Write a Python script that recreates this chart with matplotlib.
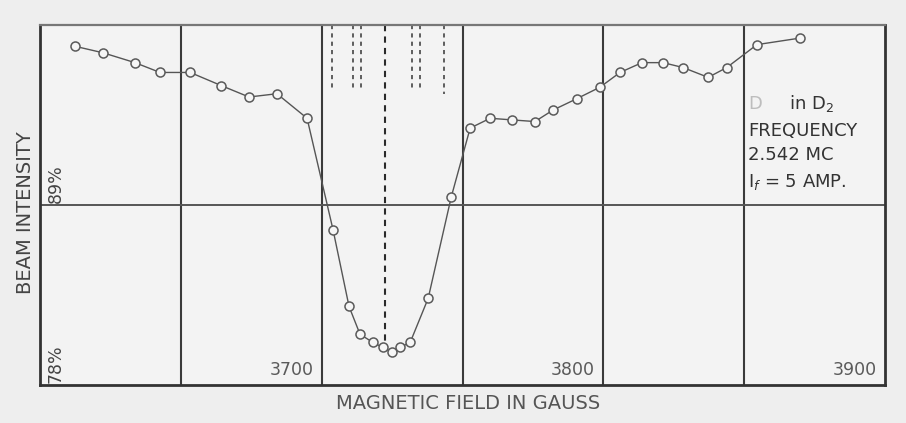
import matplotlib
matplotlib.use("Agg")
import matplotlib.pyplot as plt

# Data
field_gauss = [3612.4, 3622.4, 3633.7, 3642.6, 3653.3, 3664.3, 3674.2, 3684.1, 3694.8,
               3704.0, 3709.7, 3713.6, 3718.2, 3721.7, 3725.0, 3727.8, 3731.4, 3737.8,
               3746.0, 3752.7, 3759.8, 3767.6, 3775.7, 3782.1, 3790.6, 3798.8, 3805.9,
               3813.7, 3821.2, 3828.3, 3837.2, 3843.8, 3854.5, 3869.8]
intensity_pct = [98.7, 98.3, 97.7, 97.1, 97.1, 96.3, 95.6, 95.8, 94.3,
                 87.5, 82.8, 81.1, 80.6, 80.3, 80.0, 80.3, 80.6, 83.3,
                 89.5, 93.7, 94.3, 94.2, 94.1, 94.8, 95.5, 96.2, 97.1,
                 97.7, 97.7, 97.4, 96.8, 97.4, 98.8, 99.2]

# theoretical line positions (dashed markers at top)
short_lines_gauss = [3703.7, 3711.1, 3714.0, 3732.0, 3735.0, 3743.4]
short_lines_bottom = [96.0, 96.0, 96.0, 96.0, 96.0, 95.8]
center_line_gauss = 3722.5
center_line_bottom = 80.1

x_grid = [3650, 3700, 3750, 3800, 3850]
y_grid = [89]
x_tick_vals = [3700, 3800, 3900]
x_tick_labels = ["3700", "3800", "3900"]
y_tick_vals = [89, 78]
y_tick_labels = ["89%", "78%"]

notes = ["D", "in D$_2$", "FREQUENCY", "2.542 MC", "I$_{f}$ = 5 AMP."]

fig = plt.figure(figsize=(9.06, 4.23), dpi=100, facecolor="#eeeeee")
ax = fig.add_axes([0.0442, 0.0898, 0.9327, 0.8511])
ax.set_facecolor("#f3f3f3")
ax.set_xlim(3600, 3900)
ax.set_ylim(78, 100)

for g in x_grid:
    ax.axvline(g, color="#3a3a3a", lw=1.5, zorder=1)
for v in y_grid:
    ax.axhline(v, color="#555555", lw=1.4, zorder=1)

for g, b in zip(short_lines_gauss, short_lines_bottom):
    ax.plot([g, g], [100, b], color="#444444", lw=1.2, ls=(0, (2.5, 2.5)), zorder=2)
ax.plot([center_line_gauss, center_line_gauss], [100, center_line_bottom],
        color="#2a2a2a", lw=1.5, ls=(0, (3, 2.5)), zorder=2)

ax.plot(field_gauss, intensity_pct, color="#555555", lw=1.0, zorder=3,
        marker="o", markersize=6.5, markerfacecolor="#f6f6f6",
        markeredgecolor="#5a5a5a", markeredgewidth=1.1)

for s in ["left", "bottom", "right"]:
    ax.spines[s].set_color("#333333")
    ax.spines[s].set_linewidth(2.0)
ax.spines["top"].set_color("#777777")
ax.spines["top"].set_linewidth(1.6)
ax.set_xticks([])
ax.set_yticks([])

for v, lab in zip(x_tick_vals, x_tick_labels):
    ax.text(v - 3, 78.35, lab, ha="right", va="bottom", fontsize=12.5,
            color="#5a5a5a", zorder=4)
for v, lab in zip(y_tick_vals, y_tick_labels):
    ax.text(3602.5, v + 0.15, lab, ha="left", va="bottom", rotation=90,
            fontsize=12.5, color="#444444", zorder=4)

ax.text(3851.5, 95.2, notes[0], fontsize=13, color="#bdbdbd", ha="left", va="center")
ax.text(3866.0, 95.2, notes[1], fontsize=13, color="#333333", ha="left", va="center")
ax.text(3851.5, 93.55, notes[2], fontsize=13, color="#333333", ha="left", va="center")
ax.text(3851.5, 92.05, notes[3], fontsize=13, color="#333333", ha="left", va="center")
ax.text(3851.5, 90.4, notes[4], fontsize=13, color="#333333", ha="left", va="center")

fig.text(0.028, 0.497, "BEAM INTENSITY", rotation=90, fontsize=14,
         color="#444444", ha="center", va="center")
fig.text(0.517, 0.045, "MAGNETIC FIELD IN GAUSS", fontsize=14,
         color="#555555", ha="center", va="center")

fig.savefig("out.png", dpi=100, facecolor=fig.get_facecolor())
